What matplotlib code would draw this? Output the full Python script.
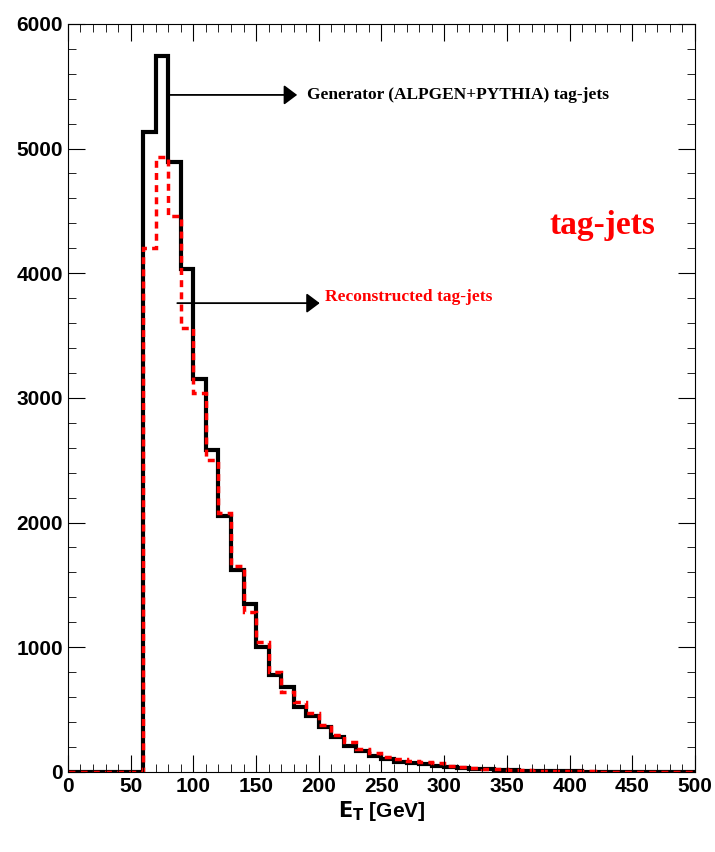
import numpy as np
import matplotlib.pyplot as plt

edges = np.arange(0, 510, 10)
gen = [0, 0, 0, 0, 0, 0, 5130, 5740, 4890, 4030, 3150, 2580, 2050, 1620, 1350, 1000,
       780, 680, 520, 450, 360, 280, 210, 170, 130, 100, 80, 70, 60, 50,
       40, 30, 25, 20, 15, 12, 10, 8, 6, 5, 4, 3, 3, 2, 2, 1, 1, 1, 1, 0]
rec = [0, 0, 0, 0, 0, 0, 4200, 4930, 4460, 3560, 3040, 2500, 2080, 1650, 1280, 1040,
       800, 640, 560, 470, 380, 300, 240, 180, 150, 120, 100, 90, 80, 70,
       50, 40, 32, 26, 20, 16, 12, 10, 8, 6, 5, 4, 3, 3, 2, 2, 1, 1, 1, 0]

fig = plt.figure(figsize=(7.15, 8.52), dpi=100)
ax = fig.add_axes([0.095, 0.094, 0.877, 0.878])
ax.stairs(gen, edges, color='black', lw=3)
ax.stairs(rec, edges, color='red', lw=2.5, ls=(0, (2, 1.5)))
ax.set_xlim(0, 500)
ax.set_ylim(0, 6000)
ax.set_xticks(np.arange(0, 501, 50))
ax.set_xticks(np.arange(0, 501, 10), minor=True)
ax.set_yticks(np.arange(0, 6001, 1000))
ax.set_yticks(np.arange(0, 6001, 200), minor=True)
ax.tick_params(which='both', direction='in', top=True, right=True)
ax.tick_params(which='major', length=12, labelsize=15)
ax.tick_params(which='minor', length=6)
for lab in ax.get_xticklabels() + ax.get_yticklabels():
    lab.set_fontweight('bold')
    lab.set_fontfamily('Liberation Sans')
ax.set_xlabel(r'$\mathbf{E_T}$ [GeV]', fontsize=15, fontweight='bold',
              fontfamily='Liberation Sans', labelpad=2)

kw = dict(arrowstyle='-|>,head_length=0.8,head_width=0.6', color='black', lw=1.3)
ax.annotate('', xy=(185, 5430), xytext=(77, 5430), arrowprops=kw)
ax.text(191, 5430, 'Generator (ALPGEN+PYTHIA) tag-jets', fontsize=12.5,
        fontweight='bold', fontfamily='Liberation Serif', va='center')
ax.annotate('', xy=(203, 3760), xytext=(85, 3760), arrowprops=kw)
ax.text(205, 3810, 'Reconstructed tag-jets', fontsize=12.5, color='red',
        fontweight='bold', fontfamily='Liberation Serif', va='center')
ax.text(384, 4380, 'tag-jets', fontsize=24, color='red', fontweight='bold',
        fontfamily='Liberation Serif', va='center')

fig.savefig('out.png')
